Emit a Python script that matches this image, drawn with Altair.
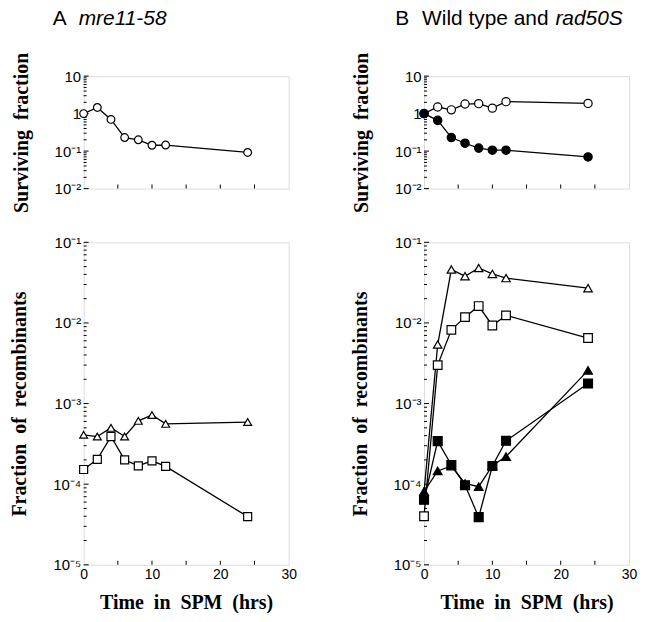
import altair as alt
import pandas as pd
import math

# ---------------- data ----------------
time_h = [0, 2, 4, 6, 8, 10, 12, 24]

# Panel A  (mre11-58)
a_surv = [1.0, 1.46, 0.70, 0.23, 0.20, 0.143, 0.145, 0.092]
a_tri_open = [4.1e-4, 3.9e-4, 5.0e-4, 3.9e-4, 6.1e-4, 7.2e-4, 5.6e-4, 5.9e-4]
a_sq_open = [1.52e-4, 2.03e-4, 3.9e-4, 2.0e-4, 1.69e-4, 1.95e-4, 1.66e-4, 3.96e-5]

# Panel B  (wild type open, rad50S filled)
b_surv_open = [1.0, 1.5, 1.26, 1.8, 1.84, 1.4, 2.08, 1.87]
b_surv_filled = [1.0, 0.66, 0.23, 0.162, 0.12, 0.106, 0.106, 0.07]
b_tri_open = [8.0e-5, 5.4e-3, 4.6e-2, 3.8e-2, 4.8e-2, 4.06e-2, 3.6e-2, 2.7e-2]
b_sq_open = [4.0e-5, 3.0e-3, 8.2e-3, 1.18e-2, 1.62e-2, 9.3e-3, 1.24e-2, 6.5e-3]
b_tri_filled = [8.1e-5, 1.46e-4, 1.68e-4, 1.02e-4, 9.3e-5, 1.7e-4, 2.2e-4, 2.58e-3]
b_sq_filled = [6.4e-5, 3.42e-4, 1.73e-4, 9.7e-5, 3.9e-5, 1.68e-4, 3.45e-4, 1.77e-3]

series_names = ["a_surv", "a_tri_open", "a_sq_open", "b_surv_open", "b_surv_filled",
                "b_tri_open", "b_sq_open", "b_tri_filled", "b_sq_filled"]
series_shapes = ["circle", "triangle-up", "square", "circle", "circle",
                 "triangle-up", "square", "triangle-up", "square"]
series_fills = ["white", "white", "white", "white", "black",
                "white", "white", "black", "black"]
series_sizes = [60, 80, 55, 60, 60, 80, 55, 80, 55]

surv_ticks = [10, 1, 0.1, 0.01]
recomb_ticks = [1e-1, 1e-2, 1e-3, 1e-4, 1e-5]
x_label_ticks = [0, 10, 20, 30]
x_minor_ticks = [5, 10, 15, 20, 25]

rows = []
for name, vals in [("a_surv", a_surv), ("a_tri_open", a_tri_open), ("a_sq_open", a_sq_open),
                   ("b_surv_open", b_surv_open), ("b_surv_filled", b_surv_filled),
                   ("b_tri_open", b_tri_open), ("b_sq_open", b_sq_open),
                   ("b_tri_filled", b_tri_filled), ("b_sq_filled", b_sq_filled)]:
    for t, v in zip(time_h, vals):
        rows.append({"series": name, "time": t, "value": v})
df = pd.DataFrame(rows)

SUP = {"10": "10", "1": "1", "-1": "10\u207b\u00b9", "-2": "10\u207b\u00b2",
       "-3": "10\u207b\u00b3", "-4": "10\u207b\u2074", "-5": "10\u207b\u2075"}


def label_expr(vals):
    expr = "''"
    for v in vals:
        e = round(math.log10(v))
        key = "10" if e == 1 else ("1" if e == 0 else str(e))
        expr = f"(abs(log(datum.value)/log(10) - ({e})) < 0.01) ? '{SUP[key]}' : " + expr
    return expr


def minor_vals(lo_exp, hi_exp):
    out = []
    for e in range(lo_exp, hi_exp):
        for k in range(2, 10):
            out.append(k * 10 ** e)
    return out


W = 206
H_TOP = 113
H_BOT = 324
SERIF = "Liberation Serif"
SANS = "Liberation Sans"
NB = "\u00a0\u00a0"


def panel(names, ydomain, yticks, height, ytitle, show_x, heading=None):
    sub = df[df["series"].isin(names)]
    xs = alt.Scale(domain=[0, 30], nice=False, zero=False)
    ys = alt.Scale(type="log", domain=ydomain, nice=False)
    x_main = alt.X("time:Q", scale=xs, axis=alt.Axis(
        values=x_label_ticks, labels=show_x, ticks=False, domain=False, grid=False,
        orient="bottom", labelFont=SANS, labelFontSize=14, labelPadding=3,
        labelColor="black", labelFlush=False,
        title=("Time" + NB + "in" + NB + "SPM" + NB + "(hrs)") if show_x else None,
        titleFont=SERIF, titleFontSize=20, titleFontWeight="bold", titleColor="black",
        titlePadding=11))
    y_main = alt.Y("value:Q", scale=ys, axis=alt.Axis(
        values=yticks, labelExpr=label_expr(yticks), ticks=False, domain=False, grid=False,
        orient="left", labelFont=SANS, labelFontSize=15, labelPadding=3, labelColor="black",
        labelFlush=False, title=ytitle, titleFont=SERIF, titleFontSize=20,
        titleFontWeight="bold", titleColor="black", titlePadding=23))
    lo = round(math.log10(ydomain[0]))
    hi = round(math.log10(ydomain[1]))

    base = alt.Chart(sub)
    lines = base.mark_line(color="black", strokeWidth=1.3).encode(
        x=x_main, y=y_main, detail="series:N")
    pts = base.mark_point(filled=True, stroke="black", strokeWidth=1.2, opacity=1).encode(
        x=alt.X("time:Q", scale=xs, axis=None),
        y=alt.Y("value:Q", scale=ys, axis=None),
        shape=alt.Shape("series:N", scale=alt.Scale(domain=series_names, range=series_shapes), legend=None),
        fill=alt.Fill("series:N", scale=alt.Scale(domain=series_names, range=series_fills), legend=None),
        size=alt.Size("series:N", scale=alt.Scale(domain=series_names, range=series_sizes), legend=None),
    )
    # inward tick marks (axis decoration) placed through the scales
    ymin = alt.Chart(alt.Data(values=[{"v": v} for v in minor_vals(lo, hi)])).mark_tick(
        orient="horizontal", size=3, thickness=1, color="black", opacity=1).encode(
        y=alt.Y("v:Q", scale=ys, axis=None), x=alt.value(1.5))
    ymaj = alt.Chart(alt.Data(values=[{"v": v} for v in yticks])).mark_tick(
        orient="horizontal", size=5, thickness=1, color="black", opacity=1).encode(
        y=alt.Y("v:Q", scale=ys, axis=None), x=alt.value(2.5))
    xt = alt.Chart(alt.Data(values=[{"v": v} for v in x_minor_ticks])).mark_tick(
        orient="vertical", size=4, thickness=1, color="black", opacity=1).encode(
        x=alt.X("v:Q", scale=xs, axis=None), y=alt.value(height - 2))
    layers = [ymin, ymaj, xt, lines, pts]
    if heading is not None:
        hd = alt.Data(values=[{"k": 0}])
        for txt, dx, style in heading:
            layers.append(alt.Chart(hd).mark_text(
                align="left", baseline="alphabetic", font=SANS, fontSize=21,
                fontStyle=style, color="black").encode(
                x=alt.value(dx), y=alt.value(-51), text=alt.value(txt)))
    return alt.layer(*layers).resolve_axis(x="independent", y="independent").properties(
        width=W, height=height)


topA = panel(["a_surv"], [0.01, 10], surv_ticks, H_TOP,
             "Surviving" + NB + "fraction", False,
             heading=[("A", -31, "normal"), ("mre11-58", -5, "italic")])
botA = panel(["a_tri_open", "a_sq_open"], [1e-5, 1e-1], recomb_ticks, H_BOT,
             "Fraction" + NB + "of" + NB + "recombinants", True)
topB = panel(["b_surv_open", "b_surv_filled"], [0.01, 10], surv_ticks, H_TOP,
             "Surviving" + NB + "fraction", False,
             heading=[("B", -29, "normal"), ("Wild type and", -2, "normal"), ("rad50S", 132, "italic")])
botB = panel(["b_tri_open", "b_sq_open", "b_tri_filled", "b_sq_filled"], [1e-5, 1e-1],
             recomb_ticks, H_BOT, "Fraction" + NB + "of" + NB + "recombinants", True)

colA = alt.vconcat(topA, botA, spacing=21)
colB = alt.vconcat(topB, botB, spacing=21)

chart = alt.hconcat(colA, colB, spacing=52).properties(
    padding={"left": 1, "top": -2, "right": 0, "bottom": -2}
).configure_view(stroke="black", strokeWidth=1.2).configure(background="white")

chart.save("out.html", embed_options={"renderer": "svg", "actions": False})
